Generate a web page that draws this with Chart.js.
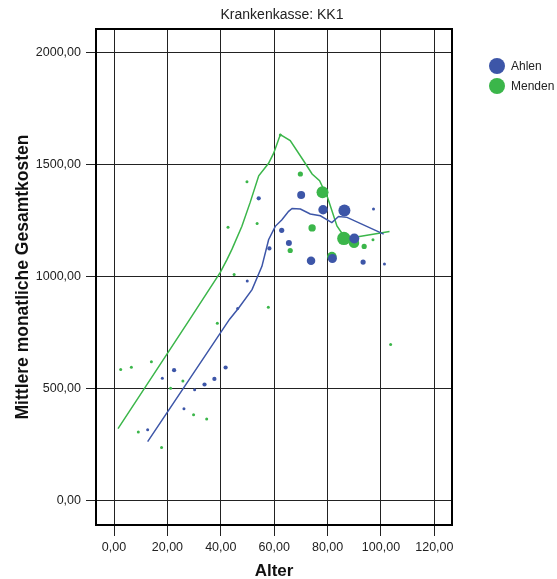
<!DOCTYPE html>
<html>
<head>
<meta charset="utf-8">
<script src="https://cdn.jsdelivr.net/npm/chart.js@4"></script>
<style>
    body { margin: 0; background: #fff; }
</style>
</head>
<body>
<canvas id="kostenChart" width="557" height="579"></canvas>
<script>
// Werte
const ahlenAlter  = [12.6, 18.1, 22.5, 26.2, 30.2, 33.9, 37.6, 41.8, 46.3, 49.9, 54.2, 58.2, 62.8, 65.5, 70.1, 73.8, 78.3, 81.8, 86.3, 90.0, 93.3, 97.2, 101.3];
const ahlenKosten = [316, 546, 582, 410, 495, 518, 543, 594, 858, 981, 1350, 1126, 1207, 1151, 1365, 1071, 1299, 1081, 1296, 1171, 1065, 1302, 1057];
const ahlenAnzahl = [1, 1, 2, 1, 1, 2, 2, 2, 1, 1, 2, 2, 3, 4, 7, 8, 10, 9, 16, 11, 3, 1, 1];

const mendenAlter  = [2.5, 6.5, 9.1, 14.0, 17.8, 21.2, 25.8, 29.8, 34.7, 38.7, 42.7, 45.0, 49.8, 53.6, 57.8, 62.3, 66.0, 69.8, 74.2, 78.1, 81.6, 86.1, 89.9, 93.7, 97.0, 103.6];
const mendenKosten = [585, 595, 306, 620, 236, 501, 534, 383, 364, 792, 1221, 1010, 1424, 1238, 863, 1633, 1117, 1459, 1218, 1377, 1090, 1171, 1151, 1135, 1165, 697];
const mendenAnzahl = [1, 1, 1, 1, 1, 1, 1, 1, 1, 1, 1, 1, 1, 1, 1, 1, 3, 3, 6, 16, 10, 20, 12, 3, 1, 1];

// Glaettungslinien (Loess)
const ahlenLoessAlter  = [12.6, 43.3, 46.7, 51.7, 55.4, 57.9, 60.4, 62.9, 65.4, 66.7, 69.8, 73.5, 77.3, 81.6, 84.1, 87.3, 101.0];
const ahlenLoessKosten = [263, 810, 860, 942, 1046, 1165, 1225, 1254, 1292, 1305, 1302, 1280, 1272, 1242, 1269, 1265, 1190];
const mendenLoessAlter  = [1.5, 28.3, 39.8, 42.3, 44.2, 47.9, 51.0, 54.2, 57.9, 59.8, 62.3, 66.0, 71.0, 74.2, 77.0, 80.0, 83.5, 86.0, 89.7, 103.2];
const mendenLoessKosten = [321, 808, 1019, 1076, 1123, 1225, 1332, 1451, 1507, 1552, 1635, 1608, 1518, 1459, 1429, 1354, 1227, 1183, 1175, 1202];

const xTicks = [0, 20, 40, 60, 80, 100, 120];
const yTicks = [0, 500, 1000, 1500, 2000];
const gruppen = ['Ahlen', 'Menden'];
const titel = 'Krankenkasse: KK1';

const blau = '#3d56a8';
const gruen = '#3bb64a';

function bubbles(alter, kosten, anzahl) {
    return alter.map((a, i) => ({ x: a, y: kosten[i], r: 1.5 * Math.sqrt(anzahl[i]) }));
}
function linie(alter, kosten) {
    return alter.map((a, i) => ({ x: a, y: kosten[i] }));
}
function komma(v) {
    return Number(v).toFixed(2).replace('.', ',');
}

const rahmenPlugin = {
    id: 'rahmen',
    afterDraw(chart) {
        const ctx = chart.ctx;
        const a = chart.chartArea;
        ctx.save();
        ctx.strokeStyle = '#000';
        ctx.lineWidth = 2;
        ctx.strokeRect(a.left, a.top, a.right - a.left, a.bottom - a.top);

        // Titel
        ctx.fillStyle = '#222';
        ctx.font = '14px "Liberation Sans", Arial, sans-serif';
        ctx.textAlign = 'center';
        ctx.textBaseline = 'middle';
        ctx.fillText(titel, 282, 15);

        // Legende
        const farben = [blau, gruen];
        ctx.font = '12px "Liberation Sans", Arial, sans-serif';
        ctx.textAlign = 'left';
        gruppen.forEach((g, i) => {
            const y = 66 + i * 20;
            ctx.beginPath();
            ctx.arc(497, y, 8, 0, Math.PI * 2);
            ctx.fillStyle = farben[i];
            ctx.fill();
            ctx.fillStyle = '#222';
            ctx.fillText(g, 511, y + 1);
        });
        ctx.restore();
    }
};

const ctx = document.getElementById('kostenChart').getContext('2d');
new Chart(ctx, {
    type: 'bubble',
    data: {
        datasets: [
            {
                label: gruppen[0],
                data: bubbles(ahlenAlter, ahlenKosten, ahlenAnzahl),
                backgroundColor: blau,
                borderWidth: 0
            },
            {
                label: gruppen[1],
                data: bubbles(mendenAlter, mendenKosten, mendenAnzahl),
                backgroundColor: gruen,
                borderWidth: 0
            },
            {
                type: 'line',
                label: gruppen[0] + ' Loess',
                data: linie(ahlenLoessAlter, ahlenLoessKosten),
                borderColor: blau,
                borderWidth: 1.5,
                pointRadius: 0,
                fill: false,
                tension: 0
            },
            {
                type: 'line',
                label: gruppen[1] + ' Loess',
                data: linie(mendenLoessAlter, mendenLoessKosten),
                borderColor: gruen,
                borderWidth: 1.5,
                pointRadius: 0,
                fill: false,
                tension: 0
            }
        ]
    },
    options: {
        responsive: false,
        animation: false,
        devicePixelRatio: 1,
        layout: { padding: { top: 29, right: 105, left: 0, bottom: 0 } },
        plugins: {
            legend: { display: false },
            tooltip: { enabled: false },
            title: { display: false }
        },
        scales: {
            x: {
                type: 'linear',
                min: -6.75,
                max: 126.6,
                afterFit: (scale) => { scale.height = 54; },
                afterBuildTicks: (scale) => { scale.ticks = xTicks.map(v => ({ value: v })); },
                border: { display: false },
                grid: { color: '#222', lineWidth: 1, tickLength: 11, tickColor: '#222' },
                ticks: {
                    padding: 4,
                    color: '#222',
                    font: { family: '"Liberation Sans", Arial, sans-serif', size: 12.5 },
                    maxRotation: 0,
                    callback: (v) => komma(v)
                },
                title: {
                    display: true,
                    text: 'Alter',
                    color: '#111',
                    padding: { top: 0, bottom: 0 },
                    font: { family: '"Liberation Sans", Arial, sans-serif', size: 17, weight: 'bold', lineHeight: 0.93 }
                }
            },
            y: {
                type: 'linear',
                min: -110,
                max: 2107,
                afterFit: (scale) => { scale.width = 96; },
                afterBuildTicks: (scale) => { scale.ticks = yTicks.map(v => ({ value: v })); },
                border: { display: false },
                grid: { color: '#222', lineWidth: 1, tickLength: 10, tickColor: '#222' },
                ticks: {
                    padding: 5,
                    color: '#222',
                    font: { family: '"Liberation Sans", Arial, sans-serif', size: 12.5 },
                    callback: (v) => komma(v)
                },
                title: {
                    display: true,
                    text: 'Mittlere monatliche Gesamtkosten',
                    color: '#111',
                    padding: { top: 13, bottom: 0 },
                    font: { family: '"Liberation Sans", Arial, sans-serif', size: 17.5, weight: 'bold' }
                }
            }
        }
    },
    plugins: [rahmenPlugin]
});
</script>
</body>
</html>
